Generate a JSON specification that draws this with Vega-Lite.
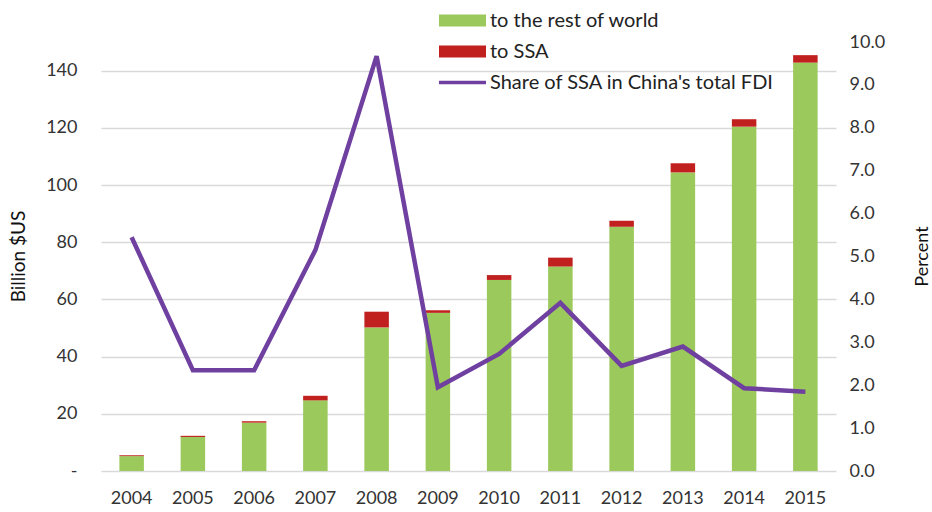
{
  "$schema": "https://vega.github.io/schema/vega-lite/v6.json",
  "width": 735,
  "height": 429,
  "autosize": {"type": "none"},
  "padding": {"left": 101, "top": 42, "right": 96, "bottom": 41},
  "background": "white",
  "config": {
    "view": {"stroke": null},
    "font": "Lato",
    "axis": {"labelFont": "Lato", "titleFont": "Lato", "labelColor": "#333333", "titleColor": "#111111"}
  },
  "datasets": {
    "bars": [
      {"year": "2004", "series": "to the rest of world", "value": 5.2},
      {"year": "2004", "series": "to SSA", "value": 0.3},
      {"year": "2005", "series": "to the rest of world", "value": 11.9},
      {"year": "2005", "series": "to SSA", "value": 0.4},
      {"year": "2006", "series": "to the rest of world", "value": 16.9},
      {"year": "2006", "series": "to SSA", "value": 0.5},
      {"year": "2007", "series": "to the rest of world", "value": 24.7},
      {"year": "2007", "series": "to SSA", "value": 1.6},
      {"year": "2008", "series": "to the rest of world", "value": 50.2},
      {"year": "2008", "series": "to SSA", "value": 5.5},
      {"year": "2009", "series": "to the rest of world", "value": 55.3},
      {"year": "2009", "series": "to SSA", "value": 0.9},
      {"year": "2010", "series": "to the rest of world", "value": 66.8},
      {"year": "2010", "series": "to SSA", "value": 1.7},
      {"year": "2011", "series": "to the rest of world", "value": 71.5},
      {"year": "2011", "series": "to SSA", "value": 3.1},
      {"year": "2012", "series": "to the rest of world", "value": 85.4},
      {"year": "2012", "series": "to SSA", "value": 2.1},
      {"year": "2013", "series": "to the rest of world", "value": 104.4},
      {"year": "2013", "series": "to SSA", "value": 3.2},
      {"year": "2014", "series": "to the rest of world", "value": 120.4},
      {"year": "2014", "series": "to SSA", "value": 2.6},
      {"year": "2015", "series": "to the rest of world", "value": 142.8},
      {"year": "2015", "series": "to SSA", "value": 2.6}
    ],
    "share": [
      {"year": "2004", "share": 5.45},
      {"year": "2005", "share": 2.35},
      {"year": "2006", "share": 2.35},
      {"year": "2007", "share": 5.15},
      {"year": "2008", "share": 9.67},
      {"year": "2009", "share": 1.95},
      {"year": "2010", "share": 2.73},
      {"year": "2011", "share": 3.92},
      {"year": "2012", "share": 2.45},
      {"year": "2013", "share": 2.9},
      {"year": "2014", "share": 1.93},
      {"year": "2015", "share": 1.85}
    ]
  },
  "encoding": {
    "x": {
      "field": "year",
      "type": "nominal",
      "scale": {"paddingInner": 0.6, "paddingOuter": 0.3},
      "axis": {
        "title": null,
        "labelAngle": 0,
        "labelFontSize": 18,
        "labelPadding": 18,
        "ticks": false,
        "domain": false,
        "grid": false
      }
    }
  },
  "layer": [
    {
      "data": {"name": "bars"},
      "mark": {"type": "bar"},
      "encoding": {
        "y": {
          "field": "value",
          "type": "quantitative",
          "stack": "zero",
          "scale": {"domain": [0, 150], "nice": false},
          "axis": {
            "orient": "left",
            "values": [0, 20, 40, 60, 80, 100, 120, 140],
            "labelExpr": "datum.value === 0 ? '-' : datum.label",
            "labelFontSize": 18,
            "labelPadding": 24,
            "ticks": false,
            "domain": false,
            "grid": true,
            "gridColor": "#D9D9D9",
            "gridWidth": 1.5,
            "title": "Billion $US",
            "titleFontSize": 19,
            "titleFontWeight": "normal",
            "titleAngle": -90,
            "titleX": -83,
            "titleY": 214,
            "titleAlign": "center",
            "titleBaseline": "middle"
          }
        },
        "color": {
          "field": "series",
          "type": "nominal",
          "scale": {
            "domain": ["to the rest of world", "to SSA", "Share of SSA in China's total FDI"],
            "range": ["#9BC95B", "#C0211F", "#7040A0"]
          },
          "legend": {
            "title": null,
            "orient": "none",
            "legendX": 338,
            "legendY": -35,
            "labelFontSize": 20,
            "labelFont": "Lato",
            "labelColor": "#222222",
            "labelOffset": 4,
            "labelLimit": 0,
            "symbolSize": 2209,
            "symbolStrokeWidth": 0,
            "clipHeight": 27,
            "rowPadding": 4,
            "encode": {
              "symbols": {
                "update": {
                  "shape": {"signal": "datum.value === \"Share of SSA in China's total FDI\" ? 'M-1,-0.07H1V0.07H-1Z' : 'M-1,-0.26H1V0.26H-1Z'"},
                  "fillOpacity": {"value": 1}
                }
              }
            }
          }
        },
        "order": {"field": "series", "sort": "descending"}
      }
    },
    {
      "data": {"name": "share"},
      "mark": {"type": "line", "strokeWidth": 4.5},
      "encoding": {
        "y": {
          "field": "share",
          "type": "quantitative",
          "scale": {"domain": [0, 10], "nice": false},
          "axis": {
            "orient": "right",
            "values": [0, 1, 2, 3, 4, 5, 6, 7, 8, 9, 10],
            "format": ".1f",
            "labelFontSize": 18,
            "labelPadding": 13,
            "ticks": false,
            "domain": false,
            "grid": false,
            "title": "Percent",
            "titleFontSize": 18,
            "titleFontWeight": "normal",
            "titleAngle": -90,
            "titleX": 86,
            "titleY": 214,
            "titleAlign": "center",
            "titleBaseline": "middle"
          }
        },
        "color": {"datum": "Share of SSA in China's total FDI", "type": "nominal"}
      }
    }
  ],
  "resolve": {"scale": {"y": "independent"}}
}
